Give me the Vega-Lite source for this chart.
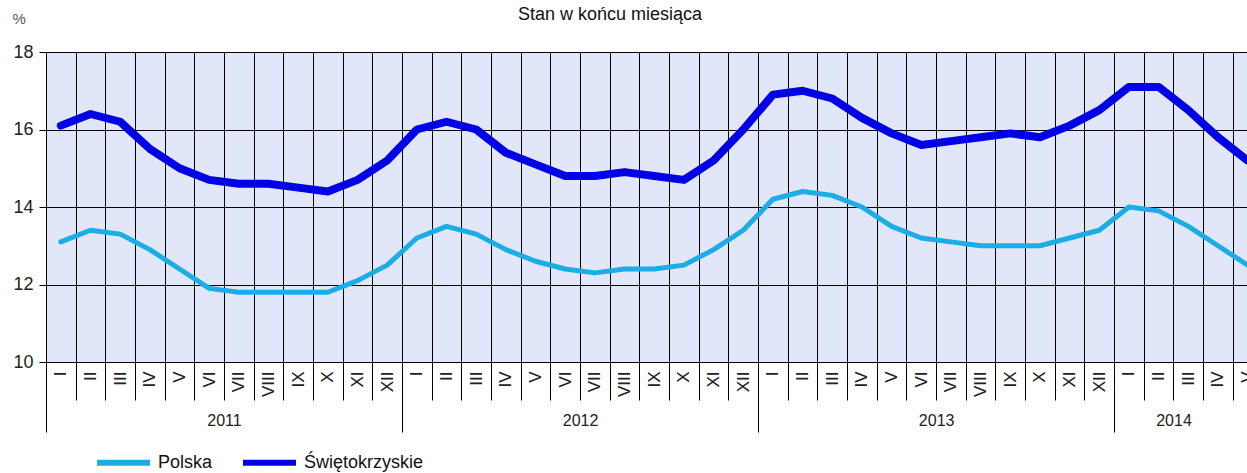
{
  "$schema": "https://vega.github.io/schema/vega-lite/v6.json",
  "width": 1216.5,
  "height": 310,
  "autosize": {"type": "none"},
  "padding": {"left": 46, "top": 52, "right": 0, "bottom": 111},
  "background": "white",
  "title": {"text": "Stan w końcu miesiąca", "fontSize": 18, "fontWeight": "normal", "font": "Liberation Sans", "color": "#111", "anchor": "start", "dx": 506, "dy": 17},
  "datasets": {
    "d": [
      {"m": "2011-01 I", "s": "Polska", "v": 13.1}, {"m": "2011-02 II", "s": "Polska", "v": 13.4}, {"m": "2011-03 III", "s": "Polska", "v": 13.3}, {"m": "2011-04 IV", "s": "Polska", "v": 12.9}, {"m": "2011-05 V", "s": "Polska", "v": 12.4}, {"m": "2011-06 VI", "s": "Polska", "v": 11.9}, {"m": "2011-07 VII", "s": "Polska", "v": 11.8}, {"m": "2011-08 VIII", "s": "Polska", "v": 11.8}, {"m": "2011-09 IX", "s": "Polska", "v": 11.8}, {"m": "2011-10 X", "s": "Polska", "v": 11.8}, {"m": "2011-11 XI", "s": "Polska", "v": 12.1}, {"m": "2011-12 XII", "s": "Polska", "v": 12.5},
      {"m": "2012-01 I", "s": "Polska", "v": 13.2}, {"m": "2012-02 II", "s": "Polska", "v": 13.5}, {"m": "2012-03 III", "s": "Polska", "v": 13.3}, {"m": "2012-04 IV", "s": "Polska", "v": 12.9}, {"m": "2012-05 V", "s": "Polska", "v": 12.6}, {"m": "2012-06 VI", "s": "Polska", "v": 12.4}, {"m": "2012-07 VII", "s": "Polska", "v": 12.3}, {"m": "2012-08 VIII", "s": "Polska", "v": 12.4}, {"m": "2012-09 IX", "s": "Polska", "v": 12.4}, {"m": "2012-10 X", "s": "Polska", "v": 12.5}, {"m": "2012-11 XI", "s": "Polska", "v": 12.9}, {"m": "2012-12 XII", "s": "Polska", "v": 13.4},
      {"m": "2013-01 I", "s": "Polska", "v": 14.2}, {"m": "2013-02 II", "s": "Polska", "v": 14.4}, {"m": "2013-03 III", "s": "Polska", "v": 14.3}, {"m": "2013-04 IV", "s": "Polska", "v": 14.0}, {"m": "2013-05 V", "s": "Polska", "v": 13.5}, {"m": "2013-06 VI", "s": "Polska", "v": 13.2}, {"m": "2013-07 VII", "s": "Polska", "v": 13.1}, {"m": "2013-08 VIII", "s": "Polska", "v": 13.0}, {"m": "2013-09 IX", "s": "Polska", "v": 13.0}, {"m": "2013-10 X", "s": "Polska", "v": 13.0}, {"m": "2013-11 XI", "s": "Polska", "v": 13.2}, {"m": "2013-12 XII", "s": "Polska", "v": 13.4},
      {"m": "2014-01 I", "s": "Polska", "v": 14.0}, {"m": "2014-02 II", "s": "Polska", "v": 13.9}, {"m": "2014-03 III", "s": "Polska", "v": 13.5}, {"m": "2014-04 IV", "s": "Polska", "v": 13.0}, {"m": "2014-05 V", "s": "Polska", "v": 12.5},
      {"m": "2011-01 I", "s": "Świętokrzyskie", "v": 16.1}, {"m": "2011-02 II", "s": "Świętokrzyskie", "v": 16.4}, {"m": "2011-03 III", "s": "Świętokrzyskie", "v": 16.2}, {"m": "2011-04 IV", "s": "Świętokrzyskie", "v": 15.5}, {"m": "2011-05 V", "s": "Świętokrzyskie", "v": 15.0}, {"m": "2011-06 VI", "s": "Świętokrzyskie", "v": 14.7}, {"m": "2011-07 VII", "s": "Świętokrzyskie", "v": 14.6}, {"m": "2011-08 VIII", "s": "Świętokrzyskie", "v": 14.6}, {"m": "2011-09 IX", "s": "Świętokrzyskie", "v": 14.5}, {"m": "2011-10 X", "s": "Świętokrzyskie", "v": 14.4}, {"m": "2011-11 XI", "s": "Świętokrzyskie", "v": 14.7}, {"m": "2011-12 XII", "s": "Świętokrzyskie", "v": 15.2},
      {"m": "2012-01 I", "s": "Świętokrzyskie", "v": 16.0}, {"m": "2012-02 II", "s": "Świętokrzyskie", "v": 16.2}, {"m": "2012-03 III", "s": "Świętokrzyskie", "v": 16.0}, {"m": "2012-04 IV", "s": "Świętokrzyskie", "v": 15.4}, {"m": "2012-05 V", "s": "Świętokrzyskie", "v": 15.1}, {"m": "2012-06 VI", "s": "Świętokrzyskie", "v": 14.8}, {"m": "2012-07 VII", "s": "Świętokrzyskie", "v": 14.8}, {"m": "2012-08 VIII", "s": "Świętokrzyskie", "v": 14.9}, {"m": "2012-09 IX", "s": "Świętokrzyskie", "v": 14.8}, {"m": "2012-10 X", "s": "Świętokrzyskie", "v": 14.7}, {"m": "2012-11 XI", "s": "Świętokrzyskie", "v": 15.2}, {"m": "2012-12 XII", "s": "Świętokrzyskie", "v": 16.0},
      {"m": "2013-01 I", "s": "Świętokrzyskie", "v": 16.9}, {"m": "2013-02 II", "s": "Świętokrzyskie", "v": 17.0}, {"m": "2013-03 III", "s": "Świętokrzyskie", "v": 16.8}, {"m": "2013-04 IV", "s": "Świętokrzyskie", "v": 16.3}, {"m": "2013-05 V", "s": "Świętokrzyskie", "v": 15.9}, {"m": "2013-06 VI", "s": "Świętokrzyskie", "v": 15.6}, {"m": "2013-07 VII", "s": "Świętokrzyskie", "v": 15.7}, {"m": "2013-08 VIII", "s": "Świętokrzyskie", "v": 15.8}, {"m": "2013-09 IX", "s": "Świętokrzyskie", "v": 15.9}, {"m": "2013-10 X", "s": "Świętokrzyskie", "v": 15.8}, {"m": "2013-11 XI", "s": "Świętokrzyskie", "v": 16.1}, {"m": "2013-12 XII", "s": "Świętokrzyskie", "v": 16.5},
      {"m": "2014-01 I", "s": "Świętokrzyskie", "v": 17.1}, {"m": "2014-02 II", "s": "Świętokrzyskie", "v": 17.1}, {"m": "2014-03 III", "s": "Świętokrzyskie", "v": 16.5}, {"m": "2014-04 IV", "s": "Świętokrzyskie", "v": 15.8}, {"m": "2014-05 V", "s": "Świętokrzyskie", "v": 15.2}
    ]
  },
  "data": {"name": "d"},
  "encoding": {
    "y": {
      "field": "v", "type": "quantitative",
      "scale": {"domain": [10, 18], "nice": false, "zero": false},
      "axis": {
        "values": [10, 12, 14, 16, 18], "title": "%", "titleAngle": 0, "titleX": -34, "titleY": -34,
        "titleAlign": "left", "titleBaseline": "middle", "titleFontSize": 15, "titleFontWeight": "normal",
        "titleFont": "Liberation Sans", "titleColor": "#555",
        "labelFontSize": 18, "labelFont": "Liberation Sans", "labelColor": "#222", "labelPadding": 6,
        "tickSize": 7, "tickColor": "#000", "domainColor": "#000",
        "grid": true, "gridColor": "#000", "gridOpacity": 1, "gridWidth": 1
      }
    }
  },
  "resolve": {"axis": {"x": "independent"}},
  "layer": [
    {
      "transform": [{"filter": "datum.s == 'Polska'"}],
      "mark": {"type": "line", "strokeWidth": 5, "strokeJoin": "round", "strokeCap": "round"},
      "encoding": {
        "x": {
          "field": "m", "type": "ordinal",
          "scale": {"paddingInner": 0, "paddingOuter": 0},
          "axis": {
            "orient": "bottom", "title": null, "tickOffset": -14.84, "labelOffset": 14.84, "tickSize": 38, "tickColor": "#000",
            "grid": true, "gridColor": "#000", "gridOpacity": 1, "domainColor": "#000",
            "labelAngle": 270, "labelAlign": "right", "labelBaseline": "middle", "labelPadding": -29,
            "labelFontSize": 17, "labelFont": "Liberation Sans", "labelColor": "#222",
            "labelExpr": "slice(datum.value, 8)"
          }
        },
        "color": {
          "field": "s", "type": "nominal",
          "scale": {"domain": ["Polska", "Świętokrzyskie"], "range": ["#1AADE6", "#0000E6"]},
          "legend": {"title": null, "orient": "none", "legendX": 48, "legendY": 381, "direction": "horizontal", "symbolType": "stroke", "symbolSize": 2809, "symbolStrokeWidth": 6, "labelFontSize": 18, "labelFont": "Liberation Sans", "labelColor": "#111", "labelOffset": 5, "columnPadding": 18}
        }
      }
    },
    {
      "transform": [{"filter": "datum.s != 'Polska'"}],
      "mark": {"type": "line", "strokeWidth": 8, "strokeJoin": "round", "strokeCap": "round"},
      "encoding": {
        "x": {"field": "m", "type": "ordinal", "scale": {"paddingInner": 0, "paddingOuter": 0}, "axis": null},
        "color": {
          "field": "s", "type": "nominal",
          "scale": {"domain": ["Polska", "Świętokrzyskie"], "range": ["#1AADE6", "#0000E6"]},
          "legend": {"title": null, "orient": "none", "legendX": 48, "legendY": 381, "direction": "horizontal", "symbolType": "stroke", "symbolSize": 2809, "symbolStrokeWidth": 6, "labelFontSize": 18, "labelFont": "Liberation Sans", "labelColor": "#111", "labelOffset": 5, "columnPadding": 18}
        }
      }
    },
    {
      "mark": {"type": "point", "opacity": 0},
      "encoding": {
        "x": {
          "field": "m", "type": "ordinal", "scale": {"paddingInner": 0, "paddingOuter": 0},
          "axis": {"orient": "bottom", "title": null, "values": ["2011-01 I", "2012-01 I", "2013-01 I", "2014-01 I"], "tickOffset": -14.84, "tickSize": 70, "tickColor": "#000", "labels": false, "domain": false, "grid": false}
        }
      }
    },
    {
      "mark": {"type": "point", "opacity": 0},
      "encoding": {
        "x": {
          "field": "m", "type": "ordinal", "scale": {"paddingInner": 0, "paddingOuter": 0},
          "axis": {
            "orient": "bottom", "title": null, "values": ["2011-06 VI", "2012-06 VI", "2013-06 VI", "2014-02 II"],
            "ticks": false, "tickSize": 0, "domain": false, "grid": false,
            "labelOffset": 14.84, "labelPadding": 58, "labelAngle": 0, "labelAlign": "center", "labelBaseline": "middle",
            "labelFontSize": 16, "labelFont": "Liberation Sans", "labelColor": "#222",
            "labelExpr": "slice(datum.value, 0, 4)"
          }
        }
      }
    }
  ],
  "config": {
    "view": {"fill": "#E1E6F8", "stroke": null}
  }
}
